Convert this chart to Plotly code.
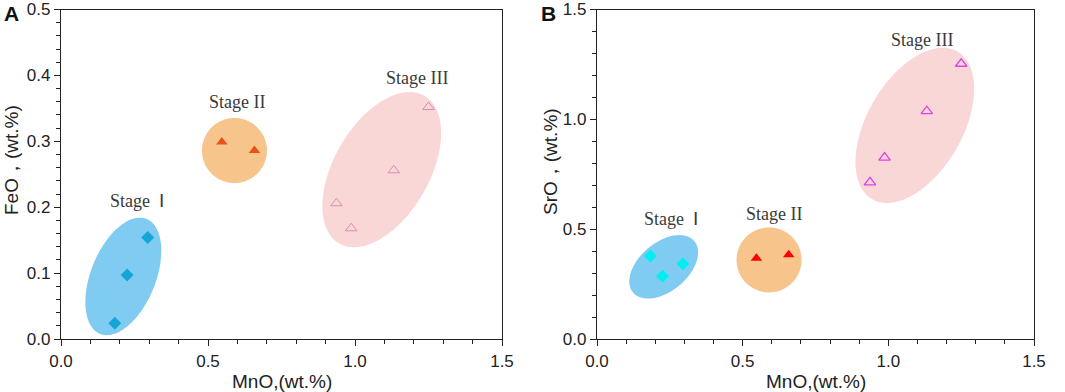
import numpy as np
import plotly.graph_objects as go

# ---- data ----
stage1_mno = [0.183, 0.225, 0.295]
stage1_feo = [0.024, 0.097, 0.154]
stage1_sro = [0.378, 0.286, 0.342]

stage2_mno = [0.547, 0.658]
stage2_feo = [0.299, 0.286]
stage2_sro = [0.368, 0.384]

stage3_mno = [0.937, 0.987, 1.132, 1.250]
stage3_feo = [0.206, 0.168, 0.256, 0.352]
stage3_sro = [0.713, 0.826, 1.037, 1.253]

stage_labels = ["Stage  Ⅰ", "Stage II", "Stage III"]

# ---- layout geometry ----
W, H = 1065, 392
xdomA = [61 / W, 502 / W]
xdomB = [597 / W, 1034 / W]
ydom = [(H - 339) / H, (H - 9.5) / H]
xrange_ = [0, 1.5]
yrangeA = [0, 0.5]
yrangeB = [0, 1.5]

# ellipse groups: (center x, center y, semi-axis a px, semi-axis b px, angle deg)
ellA = [(0.212, 0.095, 62, 32.4, 68), (0.590, 0.286, 32.5, 32.5, 0), (1.091, 0.257, 85.3, 47.7, 60)]
ellB = [(0.229, 0.3285, 40, 24.3, 40), (0.5905, 0.360, 32.5, 32.5, 0), (1.091, 0.9725, 85.3, 47.7, 60)]
ell_colors = ["#80cbf1", "#f7c48c", "#f9d7d7"]


def ellipse(cx, cy, a, b, ang, xdom, yrng):
    pxx = (xdom[1] - xdom[0]) * W / (xrange_[1] - xrange_[0])
    pxy = (ydom[1] - ydom[0]) * H / (yrng[1] - yrng[0])
    t = np.linspace(0, 2 * np.pi, 120)
    th = np.radians(ang)
    dx = a * np.cos(t) * np.cos(th) - b * np.sin(t) * np.sin(th)
    dy = a * np.cos(t) * np.sin(th) + b * np.sin(t) * np.cos(th)
    return cx + dx / pxx, cy + dy / pxy


fig = go.Figure()

for (panel, ells, xdom, yrng, xa, ya) in [("A", ellA, xdomA, yrangeA, "x", "y"),
                                          ("B", ellB, xdomB, yrangeB, "x2", "y2")]:
    for (e, col) in zip(ells, ell_colors):
        ex, ey = ellipse(*e, xdom, yrng)
        fig.add_trace(go.Scatter(x=ex, y=ey, mode="none", fill="toself", fillcolor=col,
                                 hoverinfo="skip", showlegend=False, xaxis=xa, yaxis=ya))

# panel A markers
fig.add_trace(go.Scatter(x=stage1_mno, y=stage1_feo, mode="markers",
                         marker=dict(symbol="diamond", size=10, color="#15a6d8"),
                         showlegend=False, xaxis="x", yaxis="y"))
fig.add_trace(go.Scatter(x=stage2_mno, y=stage2_feo, mode="markers",
                         marker=dict(symbol="triangle-up", size=10, color="#e8521c"),
                         showlegend=False, xaxis="x", yaxis="y"))
fig.add_trace(go.Scatter(x=stage3_mno, y=stage3_feo, mode="markers",
                         marker=dict(symbol="triangle-up-open", size=10, color="#d68fb3",
                                     line=dict(width=1)),
                         showlegend=False, xaxis="x", yaxis="y"))
# panel B markers
fig.add_trace(go.Scatter(x=stage1_mno, y=stage1_sro, mode="markers",
                         marker=dict(symbol="diamond", size=10, color="#00eef0"),
                         showlegend=False, xaxis="x2", yaxis="y2"))
fig.add_trace(go.Scatter(x=stage2_mno, y=stage2_sro, mode="markers",
                         marker=dict(symbol="triangle-up", size=10, color="#ff0000"),
                         showlegend=False, xaxis="x2", yaxis="y2"))
fig.add_trace(go.Scatter(x=stage3_mno, y=stage3_sro, mode="markers",
                         marker=dict(symbol="triangle-up-open", size=10, color="#e040e8",
                                     line=dict(width=1.3)),
                         showlegend=False, xaxis="x2", yaxis="y2"))

axis_common = dict(showline=True, linecolor="#222", linewidth=1.3, mirror=True,
                   ticks="outside", ticklen=6, tickwidth=1.3, tickcolor="#222",
                   showgrid=False, zeroline=False, automargin=False,
                   tickfont=dict(family="Liberation Sans, Arial", size=17, color="#222"))

fig.update_layout(
    width=W, height=H, margin=dict(l=0, r=0, t=0, b=0),
    plot_bgcolor="white", paper_bgcolor="white",
    xaxis=dict(domain=xdomA, range=xrange_, dtick=0.5, tickformat=".1f",
               minor=dict(dtick=0.1, ticks="outside", ticklen=4, tickcolor="#222", tickwidth=1.2),
               anchor="y", **axis_common),
    yaxis=dict(domain=ydom, range=yrangeA, dtick=0.1, tickformat=".1f",
               minor=dict(dtick=0.02, ticks="outside", ticklen=4, tickcolor="#222", tickwidth=1.2),
               anchor="x", **axis_common),
    xaxis2=dict(domain=xdomB, range=xrange_, dtick=0.5, tickformat=".1f",
                minor=dict(dtick=0.1, ticks="outside", ticklen=4, tickcolor="#222", tickwidth=1.2),
                anchor="y2", **axis_common),
    yaxis2=dict(domain=ydom, range=yrangeB, dtick=0.5, tickformat=".1f",
                minor=dict(dtick=0.1, ticks="outside", ticklen=4, tickcolor="#222", tickwidth=1.2),
                anchor="x2", **axis_common),
)

serif = dict(family="Liberation Serif, Times New Roman, serif", size=18, color="#3a3a3a")
lab_posA = [(0.259, 0.210), (0.598, 0.360), (1.210, 0.396)]
lab_posB = [(0.255, 0.548), (0.606, 0.569), (1.115, 1.361)]
for (txt, pa, pb) in zip(stage_labels, lab_posA, lab_posB):
    fig.add_annotation(x=pa[0], y=pa[1], xref="x", yref="y", text=txt, showarrow=False, font=serif)
    fig.add_annotation(x=pb[0], y=pb[1], xref="x2", yref="y2", text=txt, showarrow=False, font=serif)

sans = dict(family="Liberation Sans, Arial", size=19, color="#222")
ctr = dict(xref="paper", yref="paper", xanchor="center", yanchor="middle", showarrow=False)
fig.add_annotation(x=(xdomA[0] + xdomA[1]) / 2, y=(H - 381) / H, text="MnO,(wt.%)", font=sans, **ctr)
fig.add_annotation(x=(xdomB[0] + xdomB[1]) / 2, y=(H - 381) / H, text="MnO,(wt.%)", font=sans, **ctr)
fig.add_annotation(x=11 / W, y=(H - 160) / H, text="FeO，(wt.%)", textangle=-90, font=sans, **ctr)
fig.add_annotation(x=551 / W, y=(H - 162) / H, text="SrO，(wt.%)", textangle=-90, font=sans, **ctr)

bold = dict(family="Liberation Sans, Arial", size=21, color="#111")
fig.add_annotation(x=11 / W, y=(H - 14) / H, text="<b>A</b>", font=bold, **ctr)
fig.add_annotation(x=548 / W, y=(H - 13) / H, text="<b>B</b>", font=bold, **ctr)

fig.write_html("out.html", config={"displayModeBar": False},
               post_script="document.body.style.margin='0';document.body.style.overflow='hidden';")
